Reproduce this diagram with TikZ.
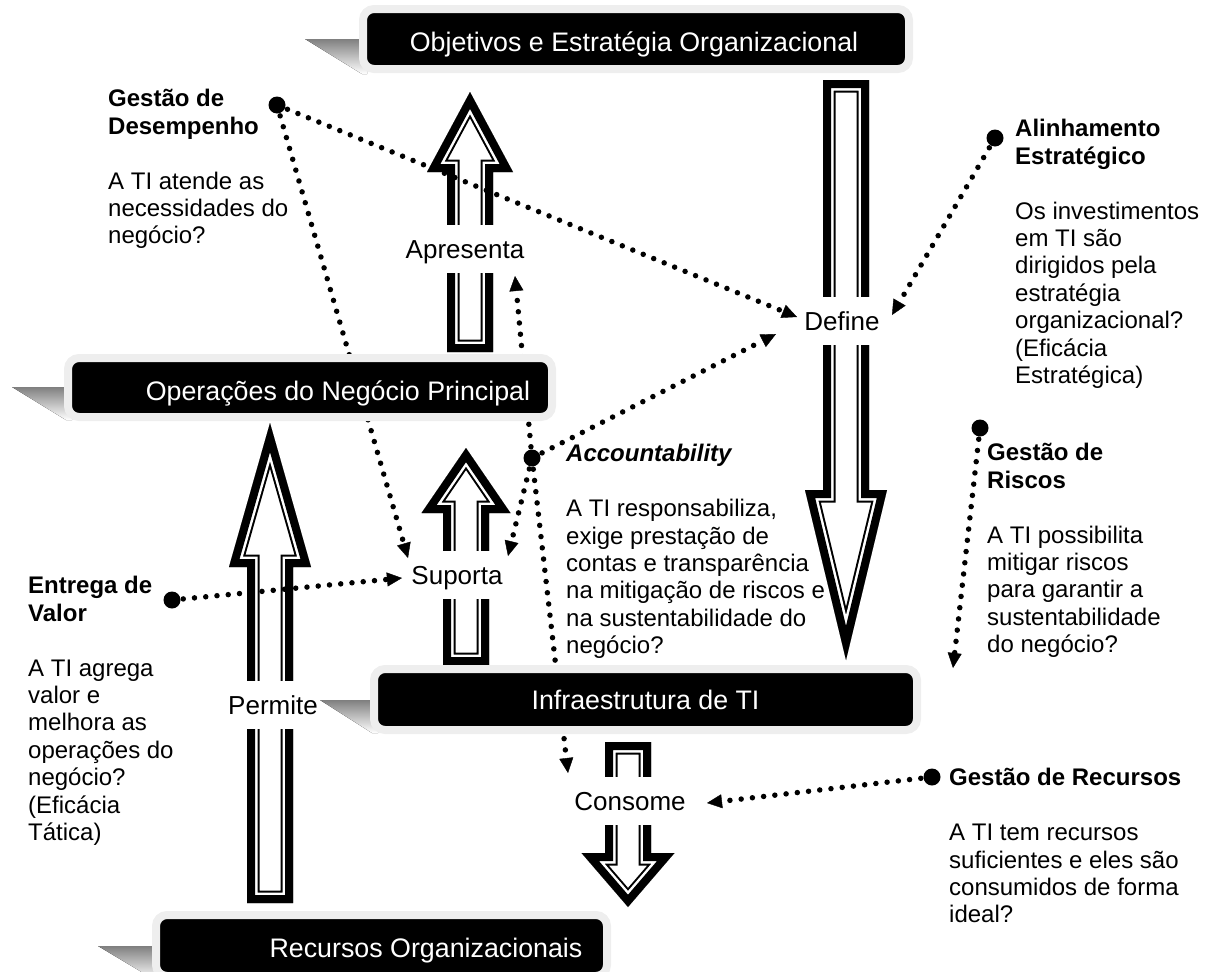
\documentclass[tikz,border=0pt]{standalone}
\usepackage{fontspec}
\setmainfont{Liberation Sans}
\usetikzlibrary{arrows.meta}
\definecolor{rim}{HTML}{EEEEEE}
\definecolor{shade}{HTML}{C0C0C0}

% Hollow block arrow: thick outer band, thin white gap, thin inner line
\newcommand{\hollowarrow}[1]{%
  \begin{scope}
    \clip #1;
    \fill[white] #1;
    \draw[black, line width=25pt, miter limit=25] #1;
    \draw[white, line width=21pt, miter limit=25] #1;
    \draw[black, line width=16pt, miter limit=25] #1;
  \end{scope}}

\begin{document}
\begin{tikzpicture}[x=1pt, y=-1pt,
  lbl/.style={fill=white, font=\fontsize{26}{30}\selectfont, text height=18.6pt,
              text depth=0pt, minimum height=48pt, inner xsep=3pt, inner ysep=0pt},
  bx/.style={rectangle, fill=black, draw=rim, line width=8pt, rounded corners=11pt, inner sep=0pt},
  boxtxt/.style={text=white, font=\fontsize{26.8}{30}\selectfont, text height=19.2pt,
                 text depth=0pt, inner sep=0pt},
  note/.style={anchor=north west, inner sep=0pt, align=left, font=\fontsize{24}{27.4}\selectfont},
  bigdot/.style={circle, fill=black, inner sep=0pt, minimum size=17pt},
  dotline/.style={line width=5.5pt, line cap=round, dash pattern=on 0pt off 11.3pt,
                  -{Triangle[length=15pt, width=14pt, line width=0.4pt]}}]
\useasboundingbox (0,0) rectangle (1208,972);
\clip (0,0) rectangle (1208,972);

% ---- block arrows ----
\hollowarrow{(447,352) -- (447,172) -- (427,172) -- (470,92) -- (513,172) -- (493,172) -- (493,352) -- cycle}
\hollowarrow{(823,80) -- (823,490) -- (805,490) -- (846,660) -- (887,490) -- (869,490) -- (869,80) -- cycle}
\hollowarrow{(443,665) -- (443,513) -- (421.5,513) -- (466,448) -- (510.5,513) -- (489,513) -- (489,665) -- cycle}
\hollowarrow{(247,903) -- (247,567) -- (229,567) -- (270,423) -- (311,567) -- (293,567) -- (293,903) -- cycle}
\hollowarrow{(605,742) -- (605,853) -- (581.5,853) -- (628,907) -- (674.5,853) -- (651,853) -- (651,742) -- cycle}

% ---- arrow labels ----
\node[lbl] (apresenta) at (465,249) {Apresenta};
\node[lbl] (define) at (842,321) {Define};
\node[lbl] (suporta) at (457,575) {Suporta};
\node[lbl] (permite) at (273,705) {Permite};
\node[lbl] (consome) at (630,801) {Consome};

% ---- dotted connectors ----
\node[bigdot] (gd) at (277,105) {};
\node[bigdot] (al) at (995,138) {};
\node[bigdot] (ac) at (532,458) {};
\node[bigdot] (ev) at (172,600) {};
\node[bigdot] (ri) at (980,428) {};
\node[bigdot] (re) at (932,777) {};

\coordinate (gdDef) at (797,317);
\coordinate (gdSup) at (408,558);
\coordinate (alDef) at (892,315);
\coordinate (acApr) at (515,276);
\coordinate (acDef) at (776,334);
\coordinate (acSup) at (508,556);
\coordinate (acCon) at (568,773);
\coordinate (evSup) at (402,578);
\coordinate (riEnd) at (953,668);
\coordinate (reCon) at (707,803);

\draw[dotline] (gd.center) -- (gdDef);
\draw[dotline] (gd.center) -- (gdSup);
\draw[dotline] (al.center) -- (alDef);
\draw[dotline] (ac.center) -- (acApr);
\draw[dotline] (ac.center) -- (acDef);
\draw[dotline] (ac.center) -- (acSup);
\draw[dotline] (ac.center) -- (acCon);
\draw[dotline] (ev.center) -- (evSup);
\draw[dotline] (ri.center) -- (riEnd);
\draw[dotline] (re.center) -- (reCon);

% ---- level boxes with drop shadows ----
\fill[shade] (305,39) -- (367,39) -- (367,74) -- (362,74) -- cycle;
\node[bx, minimum width=546pt, minimum height=60pt] (goals) at (636,39) {};
\node[boxtxt] at (634,41.5) {Objetivos e Estratégia Organizacional};

\fill[shade] (12,387) -- (72,387) -- (72,420) -- (66,420) -- cycle;
\node[bx, minimum width=484pt, minimum height=59pt] (ops) at (310,387.5) {};
\node[boxtxt] at (338,390.5) {Operações do Negócio Principal};

\fill[shade] (320,700) -- (378,700) -- (378,733) -- (372,733) -- cycle;
\node[bx, minimum width=543pt, minimum height=61pt] (infra) at (645.5,699.5) {};
\node[boxtxt] at (645.5,700) {Infraestrutura de TI};

\fill[shade] (98,946) -- (160,946) -- (160,980) -- (155,980) -- cycle;
\node[bx, minimum width=451pt, minimum height=61pt] (res) at (381.5,945.5) {};
\node[boxtxt] at (426,947.5) {Recursos Organizacionais};

% ---- governance notes ----
\node[note] (gdtxt) at (108,86.6) {\rule{0pt}{20pt}\textbf{Gestão de}\\ \textbf{Desempenho}\\[27.4pt]
  A TI atende as\\ necessidades do\\ negócio?};
\node[note] (altxt) at (1015,116.6) {\rule{0pt}{20pt}\textbf{Alinhamento}\\ \textbf{Estratégico}\\[27.4pt]
  Os investimentos\\ em TI são\\ dirigidos pela\\ estratégia\\ organizacional?\\ (Eficácia\\ Estratégica)};
\node[note] (actxt) at (566,441.6) {\rule{0pt}{20pt}\textbf{\itshape Accountability}\\[27.4pt]
  A TI responsabiliza,\\ exige prestação de\\ contas e transparência\\ na mitigação de riscos e\\ na sustentabilidade do\\ negócio?};
\node[note] (ritxt) at (987,440.6) {\rule{0pt}{20pt}\textbf{Gestão de}\\ \textbf{Riscos}\\[27.4pt]
  A TI possibilita\\ mitigar riscos\\ para garantir a\\ sustentabilidade\\ do negócio?};
\node[note] (evtxt) at (28,573.6) {\rule{0pt}{20pt}\textbf{Entrega de}\\ \textbf{Valor}\\[27.4pt]
  A TI agrega\\ valor e\\ melhora as\\ operações do\\ negócio?\\ (Eficácia\\ Tática)};
\node[note] (retxt) at (949,765.6) {\rule{0pt}{20pt}\textbf{Gestão de Recursos}\\[27.4pt]
  A TI tem recursos\\ suficientes e eles são\\ consumidos de forma\\ ideal?};
\end{tikzpicture}
\end{document}
